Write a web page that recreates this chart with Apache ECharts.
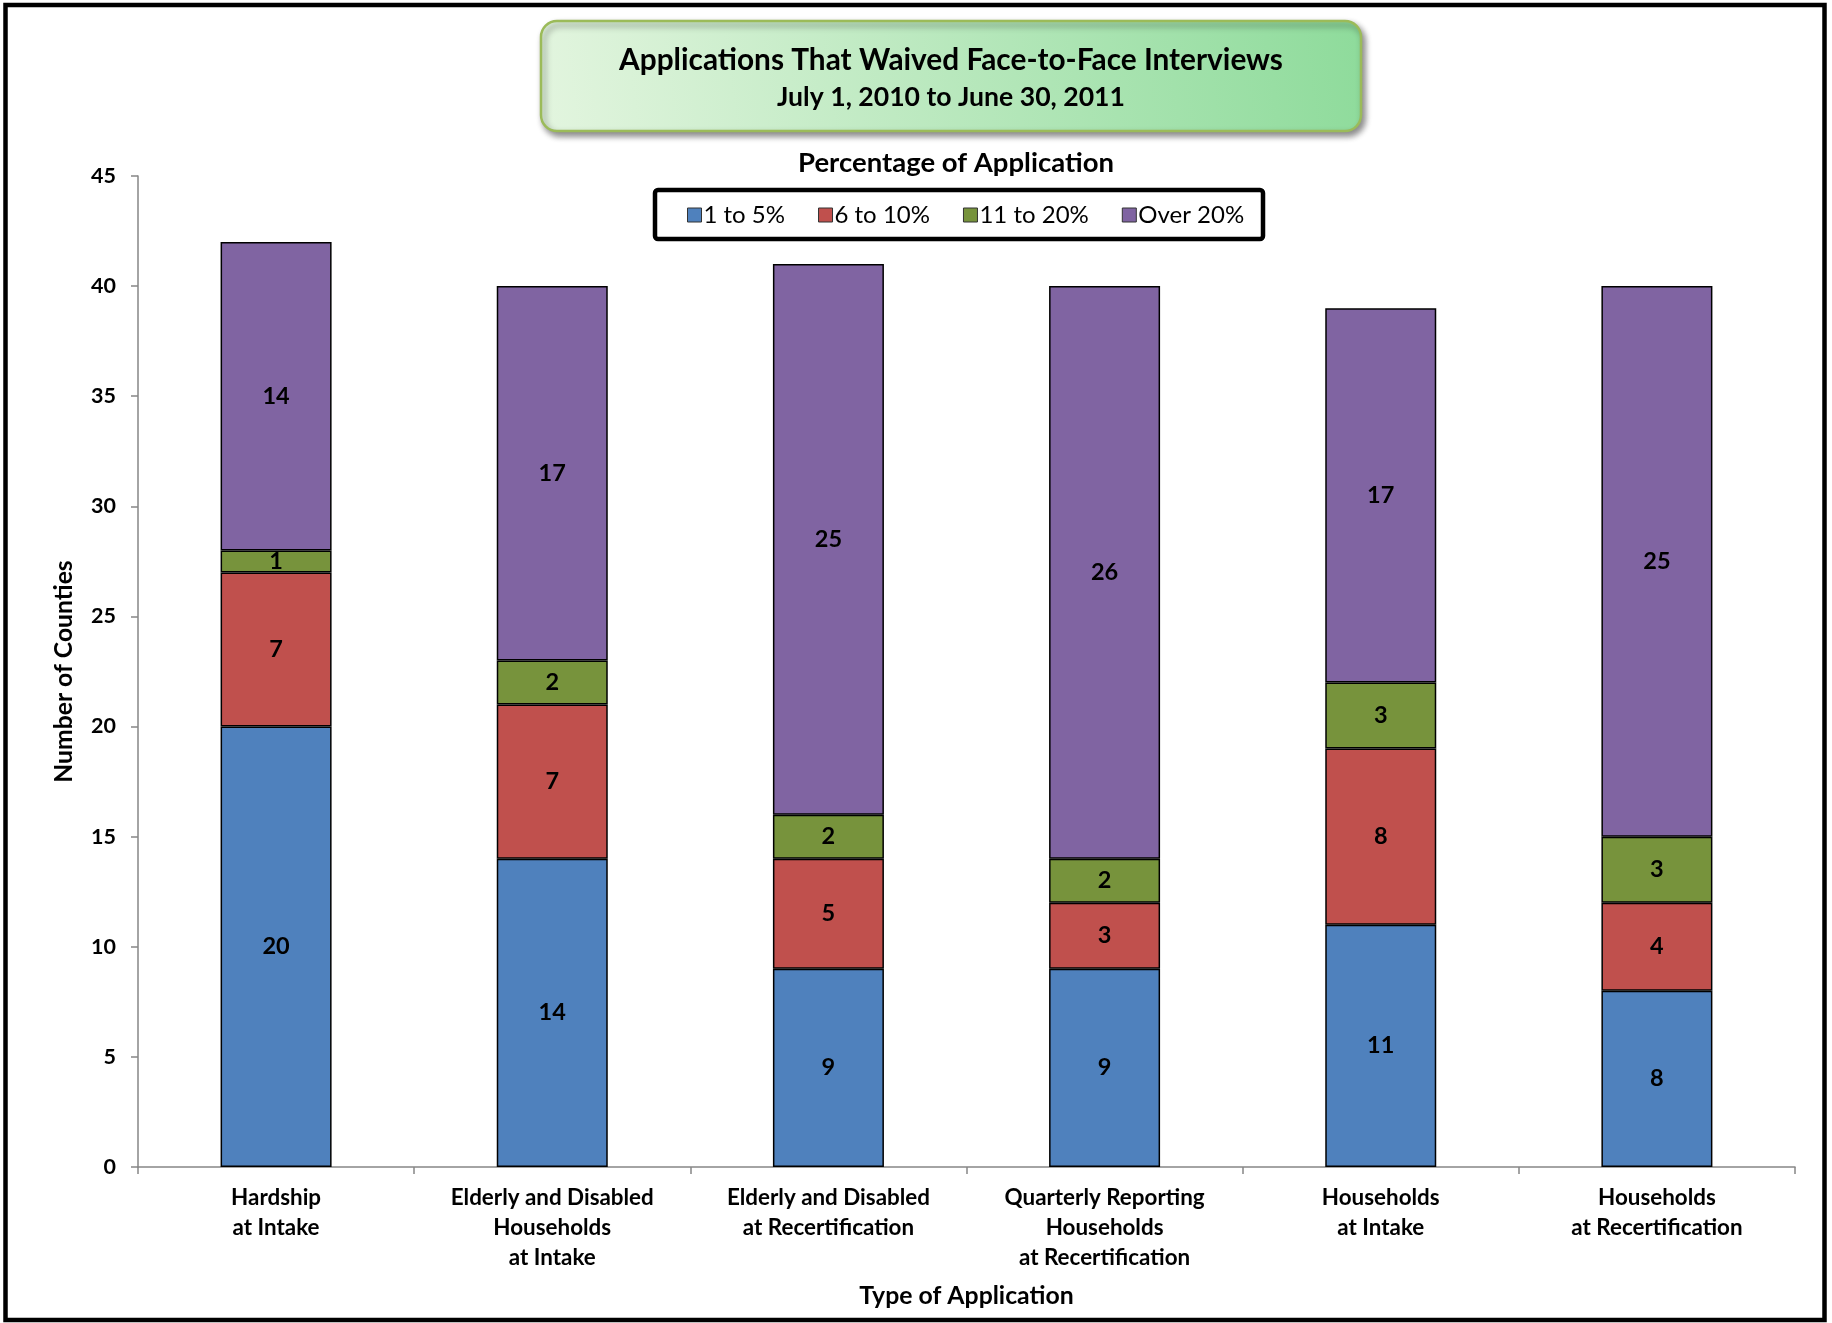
<!DOCTYPE html>
<html>
<head>
<meta charset="utf-8">
<script src="https://cdn.jsdelivr.net/npm/echarts@6/dist/echarts.min.js"></script>
<style>
html,body{margin:0;padding:0;background:#fff;}
#chart{width:1832px;height:1323px;}
</style>
</head>
<body>
<div id="chart"></div>
<script>
var categories = [
  'Hardship\nat Intake',
  'Elderly and Disabled\nHouseholds\nat Intake',
  'Elderly and Disabled\nat Recertification',
  'Quarterly Reporting\nHouseholds\nat Recertification',
  'Households\nat Intake',
  'Households\nat Recertification'
];
var seriesNames = ['1 to 5%', '6 to 10%', '11 to 20%', 'Over 20%'];
var s1to5   = [20, 14, 9, 9, 11, 8];
var s6to10  = [7, 7, 5, 3, 8, 4];
var s11to20 = [1, 2, 2, 2, 3, 3];
var sOver20 = [14, 17, 25, 26, 17, 25];
var yTicks = [0, 5, 10, 15, 20, 25, 30, 35, 40, 45];

var colors = ['#4F81BD', '#C0504D', '#77933C', '#8064A2'];
var FONT = 'Lato';
var allData = [s1to5, s6to10, s11to20, sOver20];

var chart = echarts.init(document.getElementById('chart'), null, {renderer: 'canvas'});

var series = seriesNames.map(function (name, i) {
  return {
    name: name,
    type: 'bar',
    stack: 'total',
    barWidth: 111,
    data: allData[i],
    itemStyle: {color: colors[i], borderColor: '#000', borderWidth: 1.5},
    label: {
      show: true, position: 'inside', color: '#000',
      fontFamily: FONT, fontWeight: 'bold', fontSize: 23.5
    }
  };
});

var option = {
  backgroundColor: '#fff',
  animation: false,
  graphic: [
    {
      type: 'rect', z: 0,
      shape: {x: 5.5, y: 5, width: 1819, height: 1315},
      style: {fill: 'none', stroke: '#000', lineWidth: 4.5}
    },
    {
      type: 'rect', z: 0,
      shape: {x: 541, y: 21, width: 820, height: 110, r: 16},
      style: {
        fill: new echarts.graphic.LinearGradient(0, 1, 1, 0, [
          {offset: 0, color: '#e3f5df'},
          {offset: 1, color: '#8edb9b'}
        ]),
        stroke: '#9bbb59', lineWidth: 2.5,
        shadowColor: 'rgba(0,0,0,0.45)', shadowBlur: 6,
        shadowOffsetX: 3, shadowOffsetY: 4
      }
    },
    {
      type: 'rect', z: 0,
      shape: {x: 655, y: 190, width: 608, height: 49, r: 3},
      style: {fill: '#fff', stroke: '#000', lineWidth: 4.5}
    }
  ],
  title: [
    {
      text: 'Applications That Waived Face-to-Face Interviews',
      left: 946, top: 40, textAlign: 'center',
      textStyle: {fontFamily: FONT, fontWeight: 'bold', fontSize: 29.8, color: '#000'}
    },
    {
      text: 'July 1, 2010 to June 30, 2011',
      left: 946, top: 79, textAlign: 'center',
      textStyle: {fontFamily: FONT, fontWeight: 'bold', fontSize: 26.6, color: '#000'}
    },
    {
      text: 'Percentage of Application',
      left: 951, top: 144, textAlign: 'center',
      textStyle: {fontFamily: FONT, fontWeight: 'bold', fontSize: 27.5, color: '#000'}
    }
  ],
  legend: {
    data: seriesNames,
    left: 682, top: 198,
    icon: 'rect',
    itemWidth: 14, itemHeight: 14, itemGap: 33,
    textStyle: {fontFamily: FONT, fontSize: 24, color: '#000', padding: [0, 0, 0, -3]},
    itemStyle: {borderColor: '#333', borderWidth: 1}
  },
  grid: {left: 138, right: 37, top: 176, bottom: 156, containLabel: false},
  xAxis: {
    type: 'category',
    data: categories,
    name: 'Type of Application',
    nameLocation: 'middle',
    nameGap: 117,
    nameTextStyle: {fontFamily: FONT, fontWeight: 'bold', fontSize: 24.8, color: '#000'},
    axisLine: {lineStyle: {color: '#868686', width: 1.5}},
    axisTick: {show: true, alignWithLabel: false, length: 7, lineStyle: {color: '#868686', width: 1.5}},
    axisLabel: {
      interval: 0, margin: 16, fontFamily: FONT, fontWeight: 'bold', fontSize: 22.4,
      lineHeight: 30, color: '#000'
    }
  },
  yAxis: {
    type: 'value',
    min: 0, max: 45, interval: 5,
    name: 'Number of Counties',
    nameLocation: 'middle',
    nameGap: 61,
    nameRotate: 90,
    nameTextStyle: {fontFamily: FONT, fontWeight: 'bold', fontSize: 24.7, color: '#000'},
    axisLine: {show: true, lineStyle: {color: '#868686', width: 1.5}},
    axisTick: {show: true, length: 7, lineStyle: {color: '#868686', width: 1.5}},
    splitLine: {show: false},
    axisLabel: {
      margin: 22, fontFamily: FONT, fontWeight: 'bold', fontSize: 21.5, color: '#000',
      formatter: function (v) { return yTicks.indexOf(v) >= 0 ? String(v) : ''; }
    }
  },
  series: series
};
chart.setOption(option);
</script>
</body>
</html>
